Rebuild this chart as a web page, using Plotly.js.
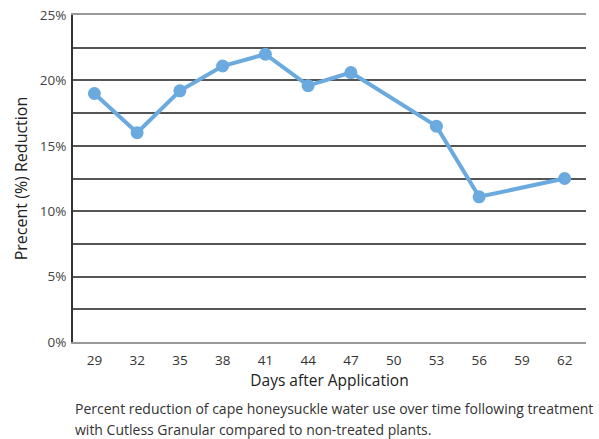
<!DOCTYPE html>
<html>
<head>
<meta charset="utf-8">
<script src="https://cdn.plot.ly/plotly-3.0.1.min.js"></script>
<style>html,body{margin:0;padding:0;background:#fff;}#chart{width:599px;height:439px;}</style>
</head>
<body>
<div id="chart"></div>
<script>
var days = ["29","32","35","38","41","44","47","50","53","56","59","62"];
var reduction = [19.0, 16.0, 19.2, 21.1, 22.0, 19.6, 20.6, null, 16.5, 11.1, null, 12.5];
var yTickVals = [0, 5, 10, 15, 20, 25];
var yTickText = ["0%", "5%", "10%", "15%", "20%", "25%"];
var xTitle = "Days after Application";
var yTitle = "Precent (%) Reduction";
var captionLines = ["Percent reduction of cape honeysuckle water use over time following treatment",
                    "with Cutless Granular compared to non-treated plants."];

var trace = {
  x: days,
  y: reduction,
  type: "scatter",
  mode: "lines+markers",
  connectgaps: true,
  line: {color: "#6aaadf", width: 4},
  marker: {color: "#6aaadf", size: 13},
  hoverinfo: "x+y"
};

var FONT = "'Open Sans', Lato, sans-serif";
var layout = {
  width: 599, height: 439,
  margin: {l: 73, r: 13, t: 15, b: 97},
  paper_bgcolor: "#fff", plot_bgcolor: "#fff",
  font: {family: FONT, color: "#333", size: 13},
  showlegend: false,
  xaxis: {
    type: "category",
    range: [-0.5, 11.5],
    showgrid: false,
    showline: true, linecolor: "#999", linewidth: 2, mirror: true,
    ticks: "", ticklabelstandoff: 5, tickfont: {size: 13.5, color: "#333"},
    title: {text: xTitle, font: {size: 15.5, color: "#222"}, standoff: 5},
    zeroline: false
  },
  yaxis: {
    range: [0, 25],
    tickvals: yTickVals, ticktext: yTickText,
    showgrid: true, gridcolor: "#555", gridwidth: 2,
    minor: {dtick: 2.5, tick0: 0, showgrid: true, gridcolor: "#555", gridwidth: 2, ticks: ""},
    showline: true, linecolor: "#333", linewidth: 2,
    ticks: "", ticklabelstandoff: 2, tickfont: {size: 13.5, color: "#444"},
    title: {text: yTitle, font: {size: 16, color: "#222"}, standoff: 8},
    zeroline: false
  },
  annotations: captionLines.map(function (t, i) {
    return {
      xref: "paper", yref: "paper",
      x: 0, y: -(66 + 22 * i) / 327,
      xanchor: "left", yanchor: "middle",
      showarrow: false,
      text: t,
      font: {size: 14, color: "#333"}
    };
  })
};

Plotly.newPlot("chart", [trace], layout, {displayModeBar: false, staticPlot: true});
</script>
</body>
</html>
